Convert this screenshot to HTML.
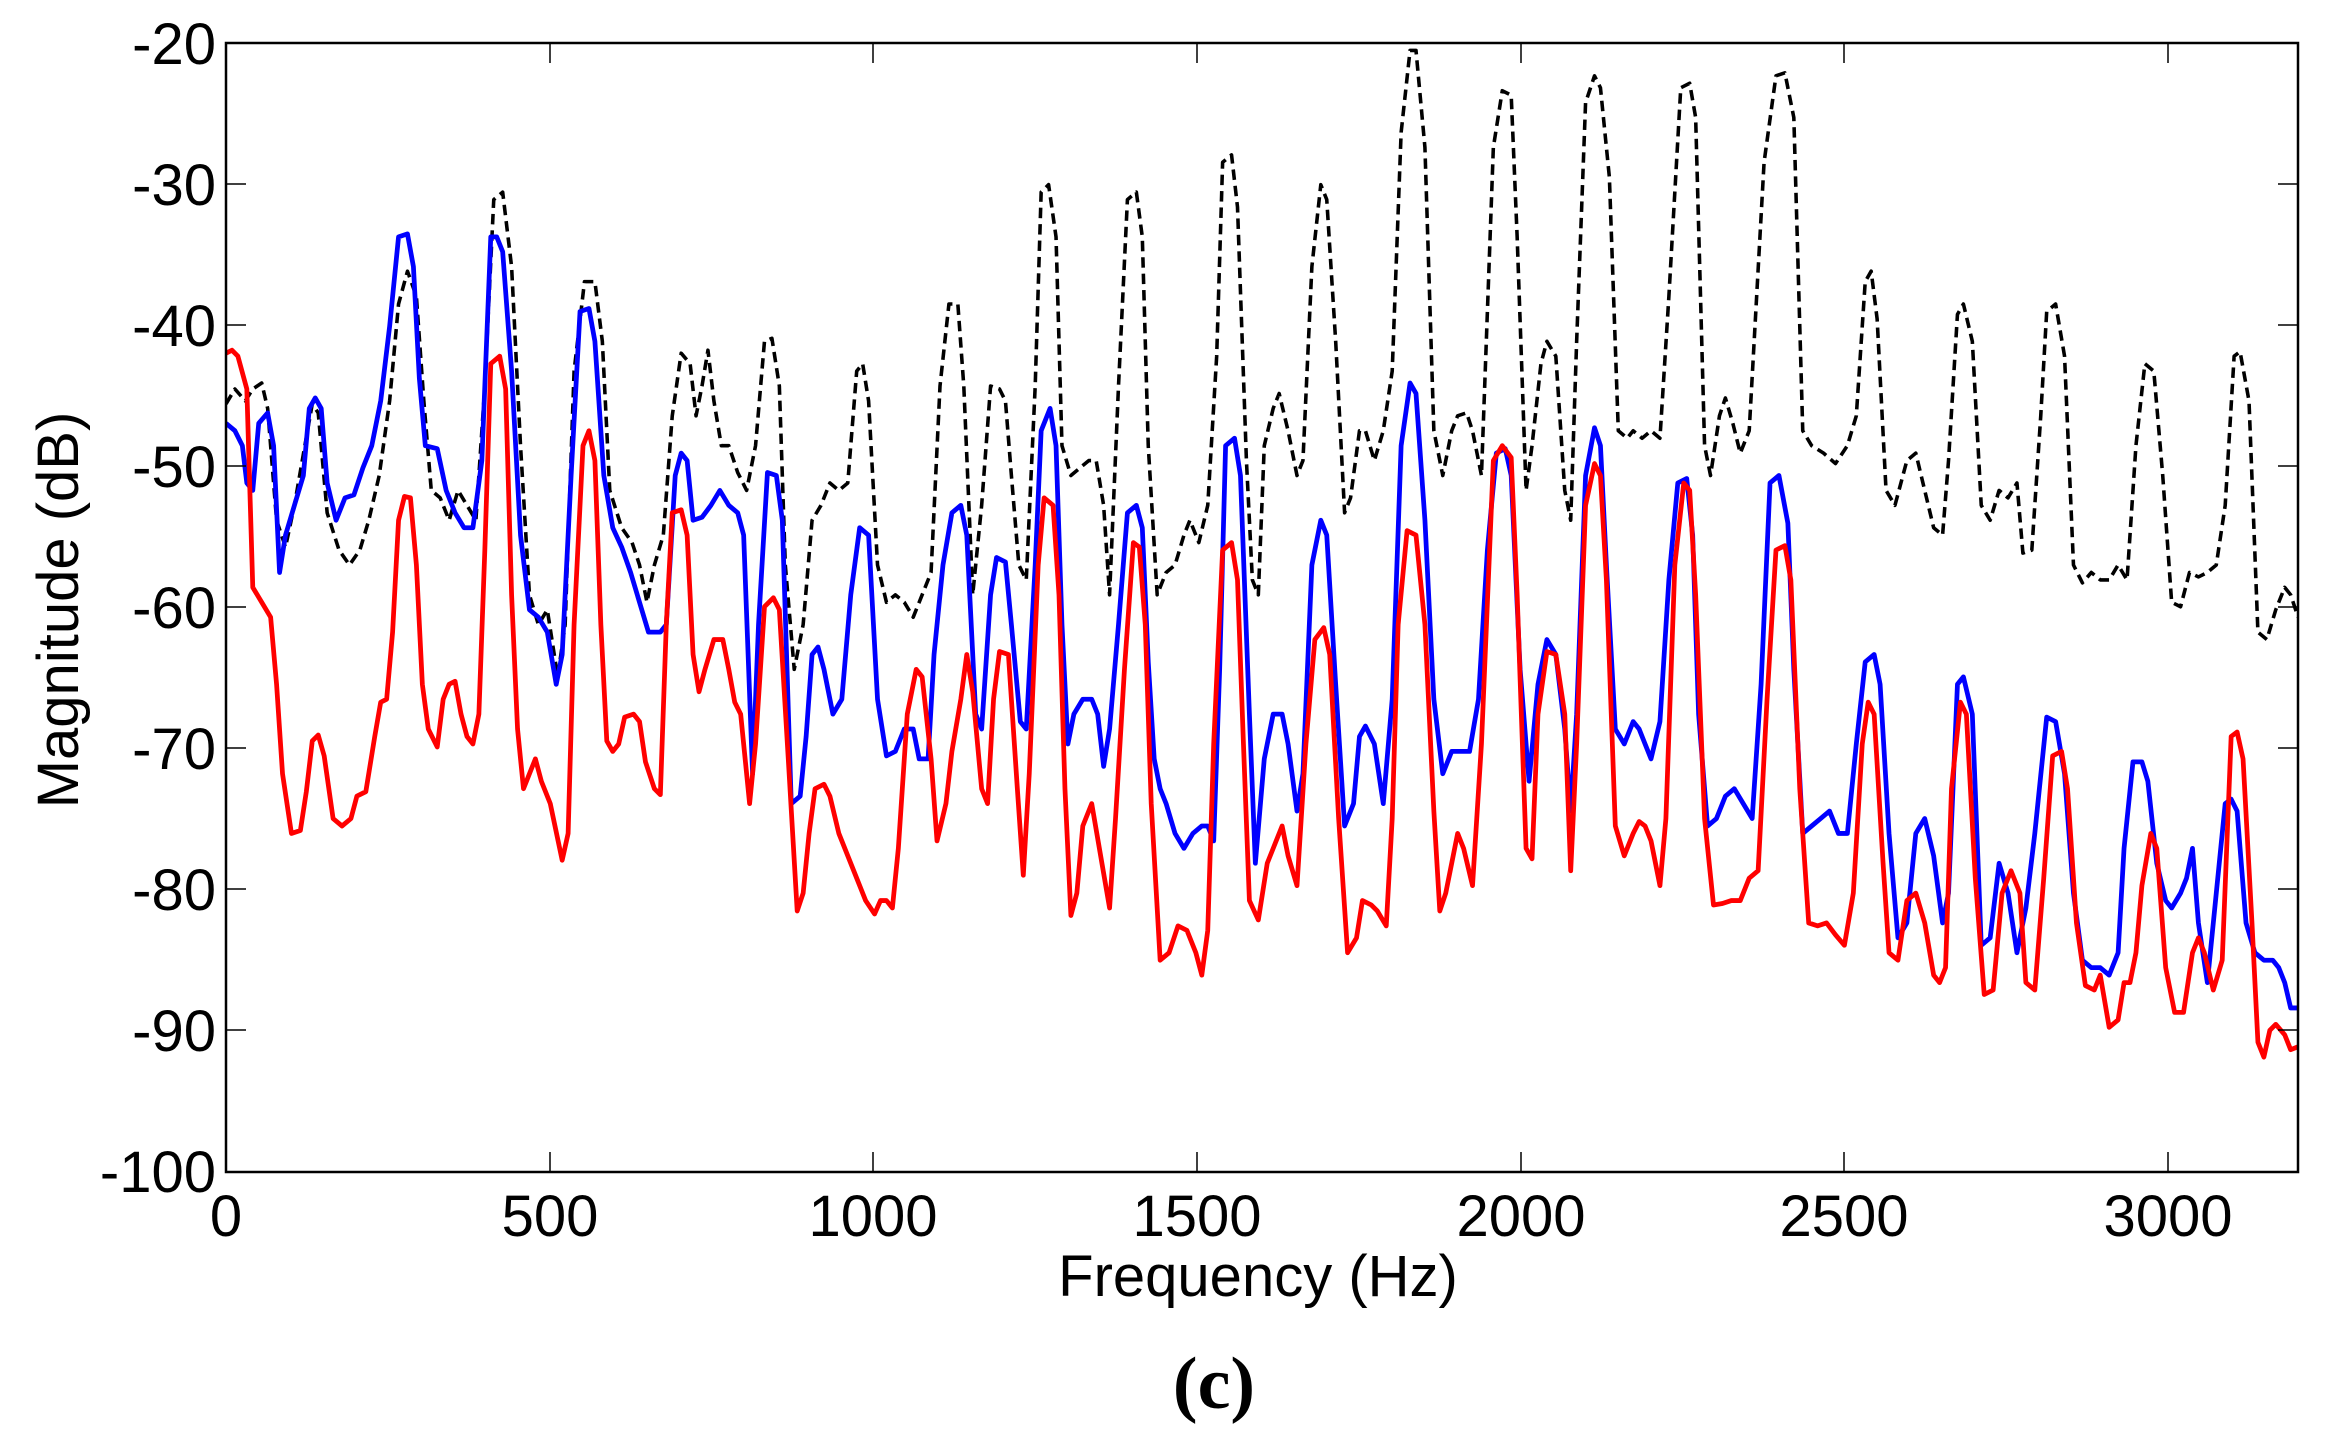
<!DOCTYPE html>
<html><head><meta charset="utf-8"><style>html,body{margin:0;padding:0;background:#fff}svg{display:block}</style></head>
<body>
<svg width="2335" height="1454" viewBox="0 0 2335 1454" xmlns="http://www.w3.org/2000/svg" font-family="Liberation Sans, Arial, sans-serif">
<rect width="2335" height="1454" fill="#fff"/>
<defs><clipPath id="c"><rect x="226" y="43" width="2072" height="1129"/></clipPath></defs>
<g clip-path="url(#c)">
<g transform="translate(226,43) scale(1.4875,1.4914) translate(-152,-30)" fill="none" stroke-linejoin="round">
<polyline stroke="#000" stroke-width="2.4" stroke-dasharray="7,4" points="152,272 158,262 165,270 170,262 176,258 180,275 186,350 192,368 198,340 205,300 210,272 214,278 220,345 228,370 235,380 242,370 248,350 255,320 262,270 268,205 274,183 280,200 285,270 290,330 296,335 302,350 308,330 314,340 320,350 326,260 332,135 338,130 344,180 350,300 356,400 362,420 368,410 375,455 380,420 386,250 393,190 400,190 405,230 410,330 418,355 425,365 430,380 435,405 440,380 446,360 452,280 458,238 464,245 468,280 472,260 476,236 480,270 485,300 490,300 496,318 502,330 508,300 514,230 519,228 524,260 528,380 534,450 540,420 546,350 552,340 558,325 564,330 570,325 576,250 580,245 584,270 590,380 596,405 602,400 608,405 614,415 620,400 626,385 632,260 638,205 644,205 648,260 654,400 660,340 666,260 672,262 676,270 680,320 685,380 690,390 696,260 700,130 705,125 710,160 714,300 720,320 726,315 732,310 737,310 742,340 746,400 752,260 758,135 764,130 768,160 772,300 778,400 784,385 790,380 796,360 800,350 806,365 812,340 818,240 822,110 828,105 832,140 838,310 842,390 846,400 850,300 856,275 860,265 866,290 872,320 876,310 882,180 888,125 892,135 898,230 904,345 908,335 914,290 918,290 924,310 930,290 936,250 942,90 948,35 952,35 958,100 964,290 970,320 976,290 980,280 986,278 990,290 996,320 1004,100 1010,62 1016,65 1020,160 1026,330 1030,300 1036,245 1040,230 1046,240 1052,330 1056,350 1060,230 1066,70 1072,52 1076,60 1082,120 1088,290 1094,295 1098,290 1104,295 1110,290 1116,295 1122,200 1130,60 1136,57 1140,80 1146,300 1150,320 1156,280 1160,268 1165,285 1170,305 1176,290 1186,110 1194,52 1200,50 1206,80 1212,290 1218,300 1226,305 1234,312 1242,300 1248,280 1254,190 1258,183 1262,215 1268,330 1274,340 1282,310 1288,305 1294,330 1300,355 1306,360 1310,310 1316,212 1320,205 1326,230 1332,340 1338,350 1344,330 1350,335 1356,325 1360,372 1366,370 1372,280 1376,210 1382,205 1388,240 1394,380 1400,392 1406,385 1412,390 1418,390 1424,380 1430,390 1436,300 1442,245 1448,250 1454,320 1460,405 1466,408 1472,385 1478,388 1484,385 1490,380 1496,340 1502,240 1506,237 1512,270 1518,425 1524,430 1530,410 1536,395 1540,400 1545,415"/>
<polyline stroke="#0000ff" stroke-width="3.2" points="152,285 158,290 163,300 166,325 170,330 174,285 180,278 184,300 188,385 192,360 198,340 204,320 208,275 212,268 216,275 220,325 226,350 232,335 238,333 244,315 250,300 256,270 262,220 268,160 274,158 278,180 282,255 286,300 294,302 300,330 306,345 312,355 318,355 324,310 330,160 334,160 338,170 344,250 350,360 356,410 362,415 368,425 374,460 378,440 384,320 390,210 396,208 400,230 406,320 412,355 418,368 424,385 430,405 436,425 444,425 448,420 454,320 458,305 462,310 466,350 472,348 478,340 484,330 490,340 496,345 500,360 506,520 510,420 516,318 522,320 526,350 532,540 538,535 542,495 546,440 550,435 554,450 560,480 566,470 572,400 578,355 584,360 590,470 596,508 602,505 608,490 614,490 618,510 624,510 628,440 634,380 640,345 646,340 650,360 656,480 660,490 666,400 670,375 676,378 680,420 686,485 690,490 696,380 700,290 706,275 710,300 714,420 718,500 722,480 728,470 734,470 738,480 742,515 746,490 752,420 758,345 764,340 768,355 772,445 776,510 780,530 784,540 790,560 796,570 802,560 808,555 812,555 816,565 820,450 824,300 830,295 834,320 840,480 844,580 850,510 856,480 862,480 866,500 872,545 876,520 882,380 888,350 892,360 898,460 904,555 910,540 914,495 918,488 924,500 930,540 936,470 942,300 948,258 952,265 958,350 964,470 970,520 976,505 982,505 988,505 994,470 1000,370 1006,305 1012,302 1016,320 1022,450 1028,525 1034,460 1040,430 1046,440 1052,490 1056,545 1060,480 1066,320 1072,288 1076,300 1080,380 1086,490 1092,500 1098,485 1102,490 1106,500 1110,510 1116,485 1122,390 1128,325 1134,322 1138,360 1142,480 1148,555 1154,550 1160,535 1166,530 1172,540 1178,550 1184,460 1190,325 1196,320 1202,352 1206,450 1212,560 1218,555 1224,550 1230,545 1236,560 1242,560 1248,500 1254,445 1260,440 1264,460 1270,560 1276,630 1282,620 1288,560 1294,550 1300,575 1306,620 1310,600 1316,460 1320,455 1326,480 1332,635 1338,630 1344,580 1350,600 1356,640 1362,610 1368,560 1376,482 1382,485 1388,520 1394,600 1400,645 1406,650 1412,650 1418,655 1424,640 1428,570 1434,512 1440,512 1444,525 1450,580 1456,605 1460,610 1466,600 1470,590 1474,570 1478,620 1484,660 1490,600 1496,540 1500,537 1504,545 1510,620 1516,640 1522,645 1528,645 1532,650 1536,660 1540,677 1545,677"/>
<polyline stroke="#ff0000" stroke-width="3.2" points="152,238 156,236 160,240 166,262 170,395 176,405 182,415 186,460 190,520 196,560 202,558 206,532 210,498 214,494 218,508 224,550 230,555 236,550 240,535 246,532 252,495 256,472 260,470 264,425 268,350 272,334 276,335 280,380 284,460 288,490 294,502 298,470 302,460 306,458 310,480 314,495 318,500 322,480 326,370 330,245 336,240 340,262 344,400 348,490 352,530 356,520 360,510 364,525 370,540 378,578 382,560 386,420 392,300 396,290 400,310 404,420 408,498 412,505 416,500 420,482 426,480 430,485 434,512 440,530 444,534 448,420 452,345 458,343 462,360 466,440 470,465 474,450 480,430 486,430 490,450 494,472 498,480 504,540 508,500 514,408 520,402 524,410 530,510 536,612 540,600 544,560 548,530 554,527 558,535 564,560 570,575 576,590 582,605 588,614 592,605 596,605 600,610 604,570 610,480 616,450 620,455 626,510 630,565 636,540 640,505 646,470 650,440 654,465 660,530 664,540 668,470 672,438 678,440 684,530 688,588 692,520 698,380 702,335 708,340 712,400 716,530 720,615 724,600 728,555 734,540 740,575 746,610 750,550 756,450 762,365 766,368 770,420 774,540 780,645 786,640 792,622 798,625 804,640 808,655 812,625 816,500 822,370 828,365 832,390 836,500 840,605 846,618 852,580 858,565 862,555 866,575 872,595 878,500 884,430 890,422 894,440 900,550 906,640 912,630 916,605 922,608 926,612 932,622 936,550 940,420 946,357 952,360 958,420 964,545 968,612 972,600 976,580 980,560 984,570 990,595 996,500 1004,310 1010,300 1016,308 1020,400 1026,570 1030,577 1034,480 1040,438 1046,440 1052,480 1056,585 1060,500 1066,340 1072,312 1076,320 1080,390 1086,555 1092,575 1098,560 1102,552 1106,555 1110,565 1116,595 1120,550 1126,380 1132,325 1136,330 1140,400 1146,550 1152,608 1158,607 1164,605 1170,605 1176,590 1182,585 1188,470 1194,370 1200,367 1204,390 1210,530 1216,620 1222,622 1228,620 1234,628 1240,635 1246,600 1252,500 1256,472 1260,480 1266,580 1270,640 1276,645 1282,605 1288,600 1294,620 1300,655 1304,660 1308,650 1312,530 1318,472 1322,480 1328,590 1334,668 1340,665 1346,600 1352,585 1358,600 1362,660 1368,665 1374,590 1380,508 1386,505 1390,530 1396,620 1402,662 1408,665 1412,655 1418,690 1424,685 1428,660 1432,660 1436,640 1440,595 1446,560 1450,570 1456,650 1462,680 1468,680 1474,640 1478,630 1482,640 1488,665 1494,645 1500,495 1504,492 1508,510 1514,620 1518,700 1522,710 1526,692 1530,688 1536,695 1540,705 1545,703"/>
</g></g>
<rect x="226" y="43" width="2072" height="1129" fill="none" stroke="#000" stroke-width="2.5"/>
<g stroke="#000" stroke-width="1.5">
<path d="M226,184h20M226,325h20M226,466h20M226,607h20M226,748h20M226,889h20M226,1030h20M2298,184h-20M2298,325h-20M2298,466h-20M2298,607h-20M2298,748h-20M2298,889h-20M2298,1030h-20"/>
<path d="M550,1172v-20M873,1172v-20M1197,1172v-20M1521,1172v-20M1844,1172v-20M2168,1172v-20M550,43v20M873,43v20M1197,43v20M1521,43v20M1844,43v20M2168,43v20"/>
</g>
<g font-size="58" fill="#000" text-anchor="end">
<text x="216" y="64">-20</text><text x="216" y="205">-30</text><text x="216" y="346">-40</text><text x="216" y="487">-50</text><text x="216" y="628">-60</text><text x="216" y="769">-70</text><text x="216" y="910">-80</text><text x="216" y="1051">-90</text><text x="216" y="1192">-100</text>
</g>
<g font-size="58" fill="#000" text-anchor="middle">
<text x="226" y="1236">0</text><text x="550" y="1236">500</text><text x="873" y="1236">1000</text><text x="1197" y="1236">1500</text><text x="1521" y="1236">2000</text><text x="1844" y="1236">2500</text><text x="2168" y="1236">3000</text>
<text x="1258" y="1296">Frequency (Hz)</text>
<text transform="translate(78,610) rotate(-90)">Magnitude (dB)</text>
</g>
<text x="1214" y="1408" font-family="Liberation Serif, serif" font-weight="bold" font-size="74" text-anchor="middle">(c)</text>
</svg>
</body></html>
